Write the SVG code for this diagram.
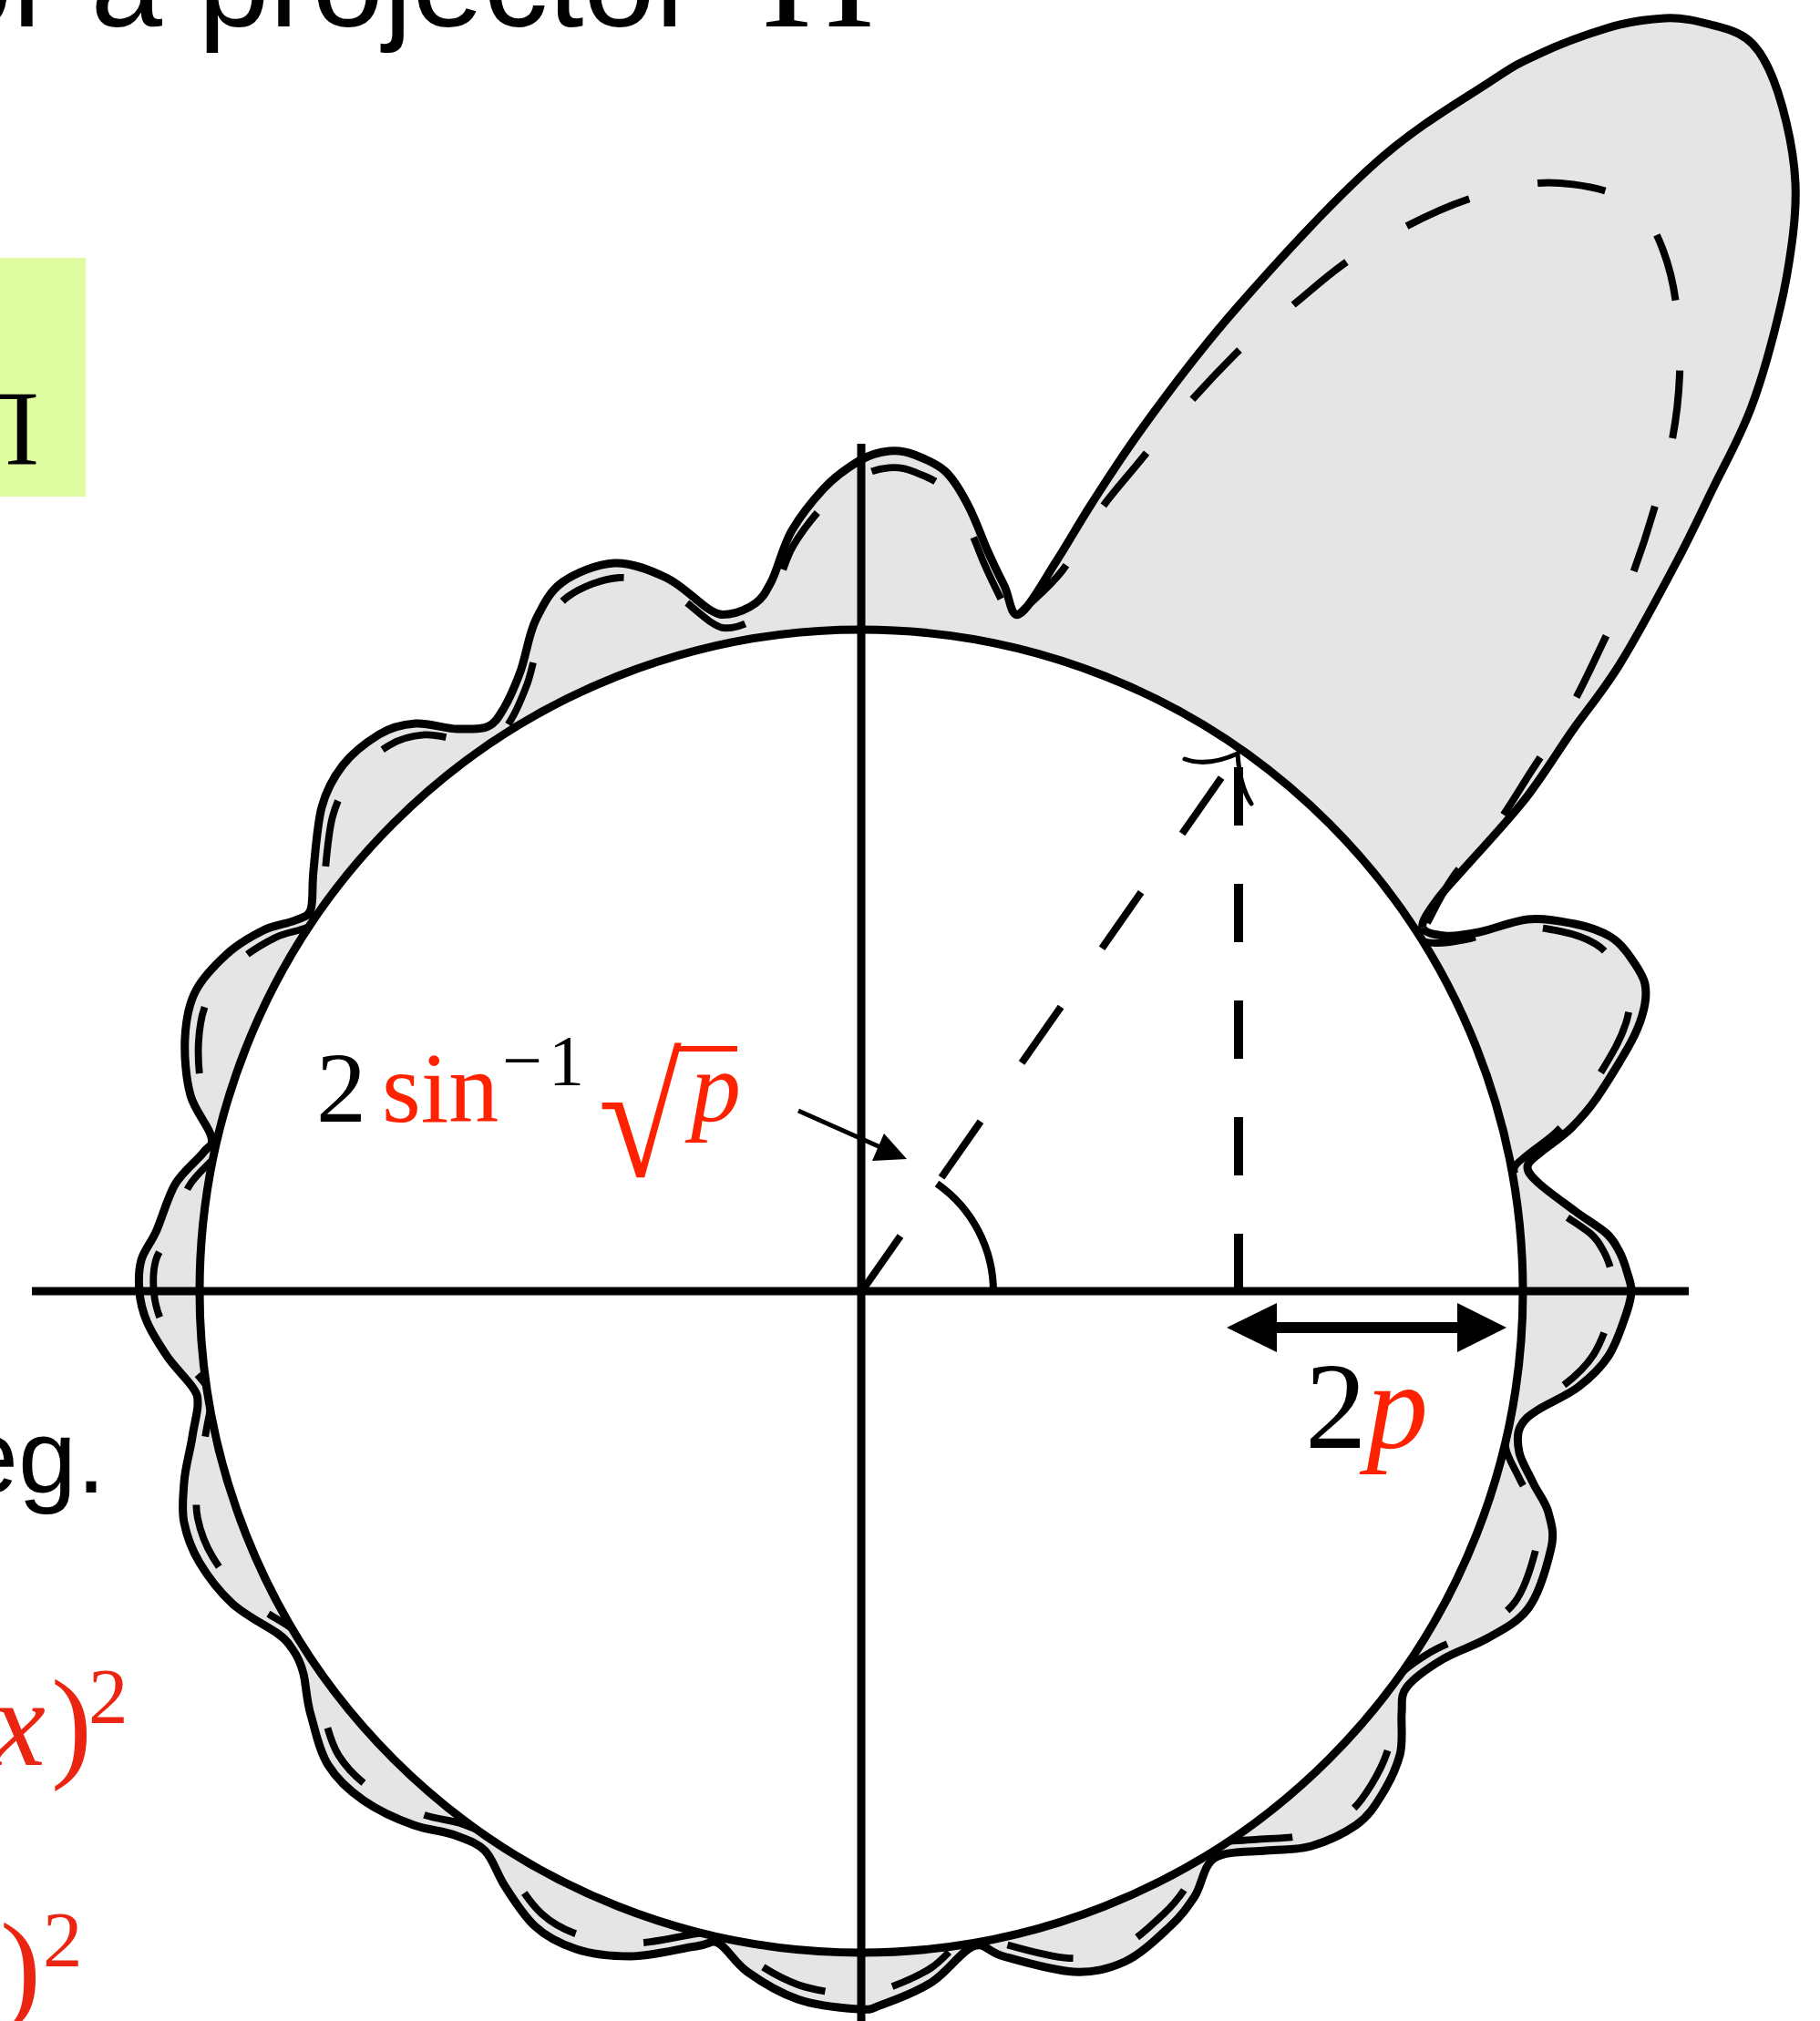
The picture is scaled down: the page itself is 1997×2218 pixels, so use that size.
<svg xmlns="http://www.w3.org/2000/svg" xmlns:xlink="http://www.w3.org/1999/xlink" width="1997" height="2218" viewBox="0 0 1997 2218">
<style>
.ln{fill:none;stroke:#000;stroke-width:9;stroke-linejoin:round}
.ds{fill:none;stroke:#000;stroke-width:8;stroke-dasharray:75 77}
.fl{fill:#E5E5E5;stroke:none}
.sf{font-family:"Liberation Serif","Times New Roman",serif}
.ss{font-family:"Liberation Sans",Arial,sans-serif}
.red{fill:#FF2200}
.rd2{fill:#EA2512}
.it{font-style:italic}
</style>
<defs>
<path id="side" d="M1561 1018 C1563 1024 1575 1026 1585 1027 S1608 1026 1623 1023 S1659 1011 1676 1009 S1713 1011 1728 1014 S1757 1022 1767 1028 S1784 1043 1790 1052 S1803 1070 1805 1080 S1805 1104 1802 1114 S1798 1128 1790 1143 S1763 1189 1752 1205 S1734 1228 1724 1238 S1698 1258 1690 1265 S1676 1275 1676 1281 S1681 1292 1690 1300 S1716 1320 1728 1329 S1754 1346 1762 1353 S1772 1365 1776 1372 S1783 1388 1785 1395 S1790 1409 1790 1416 S1789 1428 1785 1440 S1774 1474 1765 1488 S1745 1512 1732 1522 S1699 1540 1688 1547 S1672 1558 1668 1566 S1665 1584 1667 1594 S1677 1616 1682 1627 S1696 1648 1699 1660 S1706 1682 1702 1699 S1689 1749 1677 1765 S1648 1789 1632 1798 S1598 1812 1583 1821 S1552 1841 1544 1851 S1539 1868 1538 1880 S1540 1911 1536 1926 S1524 1957 1516 1970 S1501 1994 1488 2003 S1456 2021 1439 2026 S1407 2029 1389 2031 S1346 2031 1333 2039 S1319 2069 1311 2081 S1297 2102 1284 2114 S1252 2145 1234 2153 S1200 2165 1178 2164 S1119 2152 1101 2147 S1081 2131 1068 2136 S1040 2164 1023 2175 S982 2195 968 2200 S958 2206 942 2205 S895 2201 875 2194 S834 2174 820 2164 S798 2138 789 2133 S780 2134 764 2136 S714 2147 692 2147 S650 2145 632 2139 S600 2126 587 2114 S563 2084 554 2070 S541 2040 532 2031 S512 2019 499 2014 S471 2009 454 2003 S415 1987 399 1976 S370 1953 360 1937 S346 1899 341 1882 S336 1849 333 1837 S326 1817 321 1810 S316 1801 305 1793 S269 1773 255 1760 S228 1730 219 1715 S205 1686 202 1671 S201 1643 202 1627 S209 1591 211 1577 S217 1550 217 1541 S217 1531 211 1522 S191 1500 183 1488 S166 1462 161 1450 S154 1429 153 1418 S152 1394 155 1383 S166 1364 172 1350 S184 1314 192 1300 S216 1274 223 1265 S234 1259 232 1248 S214 1220 209 1202 S202 1158 203 1139 S207 1102 215 1087 S237 1058 249 1047 S277 1027 289 1021 S315 1014 324 1010 S338 1007 341 998 S342 974 344 955 S348 905 353 886 S366 853 376 840 S403 814 416 806 S442 795 456 794 S489 800 502 800 S528 801 536 797 S547 787 553 777 S565 753 571 737 S580 696 588 680 S603 649 617 639 S655 619 674 618 S714 626 731 634 S766 661 777 668 S791 675 800 674 S821 668 829 662 S839 652 846 639 S859 599 869 582 S892 549 904 536 S932 512 944 505 S966 496 976 495 S993 495 1003 499 S1028 508 1038 518 S1057 544 1064 558 S1077 589 1083 603 S1096 631 1102 643 S1109 679 1118 674"/>
<path id="lobe" d="M1118 674 C1128 670 1146 636 1159 616 S1181 579 1197 554 S1228 505 1254 469 S1314 387 1356 339 S1462 221 1509 179 S1606 109 1636 89 S1666 70 1687 60 S1740 38 1763 31 S1808 21 1827 20 S1862 23 1877 27 S1905 34 1916 42 S1934 61 1941 76 S1955 113 1960 134 S1969 179 1970 201 S1969 246 1966 268 S1961 305 1954 335 S1934 414 1922 446 S1898 499 1884 527 S1858 582 1840 616 S1795 701 1776 731 S1746 773 1728 798 S1692 854 1671 880 S1620 938 1604 956 S1582 980 1575 990 S1559 1012 1561 1018"/>
<clipPath id="outside"><path clip-rule="evenodd" d="M0 0H1997V2218H0Z M1671 1417A726 726 0 1 0 219 1417A726 726 0 1 0 1671 1417Z"/></clipPath>
</defs>

<g id="title">
<text class="ss" x="-65" y="29" font-size="141">or a projector</text>
<text class="sf" x="836" y="29" font-size="171">Π</text>
</g>

<g id="sidebar">
<rect x="0" y="283" width="94" height="262" fill="#DFFCA1"/>
<text class="sf" x="-41" y="509" font-size="116">Π</text>
<text class="ss" x="-44" y="1638" font-size="115">eg.</text>
<text class="sf rd2" font-size="135" y="1937"><tspan class="it" x="-10">x</tspan><tspan x="56">)</tspan><tspan x="97" y="1891" font-size="87">2</tspan></text>
<text class="sf rd2" font-size="135" y="2204"><tspan x="0">)</tspan><tspan x="47" y="2158" font-size="87">2</tspan></text>
</g>

<g id="pattern">
<use xlink:href="#side" href="#side" class="fl"/>
<use xlink:href="#lobe" href="#lobe" class="fl"/>
<circle id="unit-circle" cx="945" cy="1417" r="726" fill="#fff" stroke="#000" stroke-width="9"/>
<g clip-path="url(#outside)"><use xlink:href="#side" href="#side" class="ds" transform="matrix(0.98 0 0 0.98 18.9 28.34)"/></g>
<path class="ds" d="M1118 674 C1134 658 1150 646 1165 627 S1192 581 1207 560 S1238 522 1254 502 S1288 461 1305 442 S1338 406 1356 388 S1396 353 1416 337 S1453 305 1474 290 S1517 262 1540 250 S1586 227 1610 219 S1662 203 1687 201 S1744 204 1763 210 S1793 224 1803 235 S1819 259 1825 275 S1836 310 1839 333 S1844 385 1843 411 S1839 462 1834 487 S1821 538 1814 562 S1799 610 1790 634 S1770 682 1759 705 S1738 750 1726 772 S1699 818 1685 839 S1660 880 1645 901 S1607 944 1594 963 S1575 996 1566 1013"/>
<use xlink:href="#side" href="#side" class="ln"/>
<use xlink:href="#lobe" href="#lobe" class="ln"/>
</g>

<g id="axes">
<line x1="35" y1="1417" x2="1853" y2="1417" stroke="#000" stroke-width="9"/>
<line x1="945" y1="487" x2="945" y2="2218" stroke="#000" stroke-width="9"/>
</g>

<g id="connectors">
<line x1="945" y1="1418" x2="1358" y2="828" stroke="#000" stroke-width="8" stroke-dasharray="75 78.5"/>
<path d="M1300 833 Q1325 842 1358 827 Q1360 862 1373 882" fill="none" stroke="#000" stroke-width="5" stroke-linecap="round"/>
<line x1="1359" y1="1418" x2="1359" y2="829" stroke="#000" stroke-width="10" stroke-dasharray="64 64"/>
<path d="M1090 1418 A145 145 0 0 0 1028 1299" fill="none" stroke="#000" stroke-width="8"/>
<line x1="876" y1="1219" x2="966" y2="1259" stroke="#000" stroke-width="5"/>
<polygon points="995,1272 970,1244 957,1274" fill="#000"/>
<line x1="1395" y1="1457" x2="1605" y2="1457" stroke="#000" stroke-width="12"/>
<polygon points="1346,1457 1401,1430 1401,1484" fill="#000"/>
<polygon points="1653,1457 1599,1430 1599,1484" fill="#000"/>
</g>

<g id="labels">
<text class="sf" font-size="110" x="347" y="1231">2</text>
<text class="sf red" font-size="110" x="419" y="1231">sin</text>
<text class="sf" font-size="78" y="1190"><tspan x="551">−</tspan><tspan x="602">1</tspan></text>
<text class="sf red" font-size="185" x="656" y="1291" transform="translate(660 0) scale(0.9 1) translate(-660 0)">√</text>
<line x1="741" y1="1151" x2="809" y2="1151" stroke="#FF2200" stroke-width="6"/>
<text class="sf red it" font-size="110" x="758" y="1231">p</text>
<text class="sf" font-size="135" x="1432" y="1589">2<tspan class="red it">p</tspan></text>
</g>
</svg>
